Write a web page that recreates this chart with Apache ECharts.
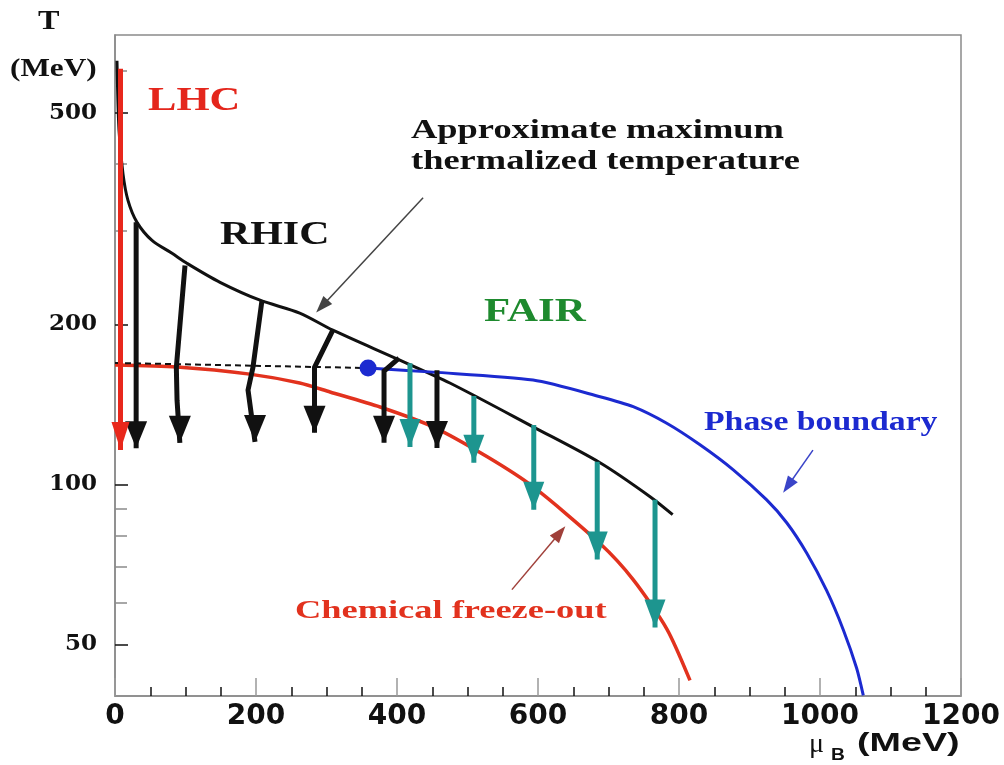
<!DOCTYPE html>
<html>
<head>
<meta charset="utf-8">
<script src="https://cdn.jsdelivr.net/npm/echarts@6/dist/echarts.min.js"></script>
<style>
html, body { margin: 0; padding: 0; background: #fff; }
#main { width: 1004px; height: 765px; }
</style>
</head>
<body>
<div id="main"></div>
<script>
// tick values of the log T axis
var yMajorTicks = [50, 100, 200, 500];
var yMinorTicks = [60, 70, 80, 90, 300, 400, 600];

// chemical freeze-out curve (mu_B, T)
var freezeMu = [0, 88, 191, 262, 305, 376, 451, 528, 593, 688, 735, 783, 815.6];
var freezeT = [167.7, 166.2, 161.2, 155.1, 149.2, 139.8, 128.3, 112.7, 99, 77.4, 66.2, 53.4, 42.8];

// approximate maximum thermalized temperature
var maxMu = [2.8, 5.7, 11.3, 18.4, 31.2, 52.5, 80.9, 102, 149, 205.7, 262, 309, 404, 475, 593, 688, 759, 791];
var maxT = [626, 463, 384, 342, 311, 287.6, 272, 260.5, 239.9, 222, 210, 195, 171.3, 155.1, 128.3, 109.8, 94.8, 87.7];

// phase boundary
var phaseMu = [359, 451, 593, 688, 735, 782.6, 829.8, 877, 924.4, 952.8, 981.1, 1009.5, 1033, 1052, 1061.4];
var phaseT = [165.5, 162.6, 157.1, 146.2, 140, 130.3, 118.7, 106.5, 93.5, 84.7, 74.3, 63.1, 53.3, 45.1, 40.1];

// crossover (dashed) and critical point
var crossMu = [0, 359];
var crossT = [169.2, 165.5];
var cepMu = [359];
var cepT = [165.5];

// trajectories: start -> ... -> tip
var lhcArrows = [
    [[7.8, 605], [7.8, 116]]
];
var rhicArrows = [
    [[30, 311], [30, 117]],
    [[99.3, 258], [87, 166], [88, 144], [92, 119.7]],
    [[208.5, 222], [195.7, 166], [188.7, 150.5], [198.6, 120.2]],
    [[309, 195], [283, 166], [283, 125]],
    [[402.8, 172.8], [381.6, 163.3], [381.6, 119.7]],
    [[456.7, 164], [456.7, 117.1]]
];
var fairArrows = [
    [[418.4, 169], [418.4, 117.6]],
    [[509, 146.6], [509, 109.8]],
    [[594, 129.3], [594, 89.6]],
    [[684, 110.3], [684, 72.2]],
    [[766, 93.6], [766, 53.8]]
];

// thin pointers from the labels
var pointerApprox = [[437, 346], [293.6, 216.3]];
var pointerPhase = [[990, 116], [954.6, 99.4]];
var pointerFreeze = [[563, 63.4], [631, 81.1]];

function pairs(xs, ys) {
    return xs.map(function (x, i) { return [x, ys[i]]; });
}

function curve(xs, ys, color, width, smooth, extra) {
    var s = {
        type: 'line',
        data: pairs(xs, ys),
        showSymbol: false,
        smooth: smooth,
        silent: true,
        lineStyle: { color: color, width: width },
        z: 3
    };
    if (extra) Object.assign(s.lineStyle, extra);
    return s;
}

function shafts(list, color, width) {
    return {
        type: 'lines',
        coordinateSystem: 'cartesian2d',
        polyline: true,
        silent: true,
        lineStyle: { color: color, width: width, opacity: 1 },
        data: list.map(function (c) { return { coords: c }; }),
        z: 5
    };
}

function heads(list, color, size) {
    return {
        type: 'scatter',
        symbol: 'triangle',
        symbolRotate: 180,
        symbolSize: size,
        symbolOffset: [0, -size[1] / 2],
        silent: true,
        itemStyle: { color: color, opacity: 1 },
        data: list.map(function (c) { return c[c.length - 1]; }),
        z: 6
    };
}

function pointer(c, color, lineColor) {
    return {
        type: 'lines',
        coordinateSystem: 'cartesian2d',
        silent: true,
        symbol: ['none', 'triangle'],
        symbolSize: [0, [12, 17]],
        lineStyle: { color: lineColor, width: 1.5, opacity: 1 },
        itemStyle: { color: color },
        data: [{ coords: c }],
        z: 6
    };
}

function label(text, x, y, size, sx, color, family, weight) {
    return {
        type: 'text', x: x, y: y, scaleX: sx, silent: true, z: 10,
        style: {
            text: text,
            font: (weight || 'bold') + ' ' + size + 'px ' + (family || '"Liberation Serif"'),
            fill: color,
            textAlign: 'left', textVerticalAlign: 'middle',
            align: 'left', verticalAlign: 'middle'
        }
    };
}

var chart = echarts.init(document.getElementById('main'));
var option = {
    backgroundColor: '#fff',
    animation: false,
    grid: {
        left: 115, right: 43, top: 35, bottom: 69,
        show: true, borderColor: '#8a8a8a', borderWidth: 1.5,
        outerBoundsMode: 'none'
    },
    xAxis: {
        type: 'value', min: 0, max: 1200, interval: 200,
        axisLine: { lineStyle: { color: '#8a8a8a', width: 1.5 } },
        axisTick: { inside: true, length: 18, lineStyle: { color: '#999', width: 1.5 } },
        minorTick: { show: true, splitNumber: 4, length: 9, lineStyle: { color: '#111', width: 1.5 } },
        axisLabel: {
            fontFamily: 'DejaVu Sans', fontWeight: 'bold', fontSize: 28, color: '#111', margin: 7,
            formatter: function (v) { return String(v); }
        },
        splitLine: { show: false },
        minorSplitLine: { show: false }
    },
    yAxis: [{
        type: 'log', logBase: 10, min: 40, max: 700,
        axisLine: { show: true, lineStyle: { color: '#8a8a8a', width: 1.5 } },
        axisTick: { show: true, inside: true, length: 13, customValues: yMajorTicks, lineStyle: { color: '#111', width: 1.5 } },
        axisLabel: { customValues: yMajorTicks, fontFamily: 'DejaVu Serif', fontWeight: 'bold', fontSize: 23, color: '#111', margin: 18 },
        splitLine: { show: false }
    }, {
        type: 'log', logBase: 10, min: 40, max: 700, position: 'left',
        axisLine: { show: false },
        axisTick: { show: true, inside: true, length: 12, customValues: yMinorTicks, lineStyle: { color: '#8a8a8a', width: 1.5 } },
        axisLabel: { show: false },
        splitLine: { show: false }
    }],
    series: [
        curve(freezeMu, freezeT, '#e2321e', 3.5, 0.25),
        curve(maxMu, maxT, '#111', 3, 0.3),
        curve(phaseMu, phaseT, '#1c2ad0', 3, 0.25),
        curve(crossMu, crossT, '#111', 2, 0, { type: [6, 4] }),
        {
            type: 'scatter', data: pairs(cepMu, cepT), symbol: 'circle', symbolSize: 17,
            itemStyle: { color: '#1c2ad0', opacity: 1 }, silent: true, z: 4
        },
        shafts(rhicArrows, '#111', 5),
        heads(rhicArrows, '#111', [22, 27]),
        shafts(fairArrows, '#1d958f', 5),
        heads(fairArrows, '#1d958f', [21, 28]),
        shafts(lhcArrows, '#e8281c', 5),
        heads(lhcArrows, '#e8281c', [18, 28]),
        pointer(pointerApprox, '#111', '#444'),
        pointer(pointerPhase, '#1c2ad0', '#3a44c8'),
        pointer(pointerFreeze, '#e8281c', '#a0403a')
    ],
    graphic: [
        label('T', 38, 22, 28, 1.15, '#111'),
        label('(MeV)', 10, 69, 26, 1.2, '#111'),
        label('LHC', 148, 101, 33, 1.29, '#e4261c'),
        label('RHIC', 220, 235, 33, 1.27, '#111'),
        label('FAIR', 484, 312, 33, 1.3, '#1e8a2e'),
        label('Approximate maximum', 411, 131, 27, 1.35, '#111'),
        label('thermalized temperature', 411, 162, 27, 1.35, '#111'),
        label('Phase boundary', 704, 423, 27, 1.25, '#1c2ad0'),
        label('Chemical freeze-out', 295, 611, 26, 1.4, '#e2321e'),
        label('\u03bc', 809, 745, 28, 1, '#111', '"Liberation Serif"', 'normal'),
        label('B', 831, 756, 16, 1.2, '#111', '"Liberation Sans"'),
        label('(MeV)', 857, 744, 26, 1.45, '#111', '"Liberation Sans"')
    ]
};
chart.setOption(option);
</script>
</body>
</html>
